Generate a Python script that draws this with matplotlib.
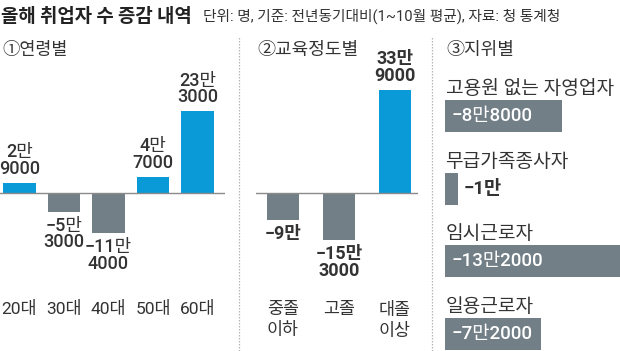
import matplotlib
matplotlib.use("Agg")
import matplotlib.pyplot as plt

plt.rcParams['font.family'] = ['Roboto', 'Noto Sans CJK KR', 'DejaVu Sans']

# ---- data ----
age_labels = ['20대', '30대', '40대', '50대', '60대']
age_values = [29000, -53000, -114000, 47000, 233000]
age_texts = ['2만\n9000', '−5만\n3000', '−11만\n4000', '4만\n7000', '23만\n3000']

edu_labels = ['중졸\n이하', '고졸', '대졸\n이상']
edu_values = [-90000, -153000, 339000]
edu_texts = ['−9만', '−15만\n3000', '33만\n9000']

status_labels = ['고용원 없는 자영업자', '무급가족종사자', '임시근로자', '일용근로자']
status_values = [-88000, -10000, -132000, -72000]
status_texts = ['−8만8000', '−1만', '−13만2000', '−7만2000']

BLUE = '#0a9ad8'
GRAY = '#737f87'
TXT = '#333333'

W, H = 620, 351
fig = plt.figure(figsize=(W / 100, H / 100), dpi=100)


def px_axes(x0, y0, x1, y1):
    ax = fig.add_axes([x0 / W, 1 - y1 / H, (x1 - x0) / W, (y1 - y0) / H])
    ax.set_axis_off()
    return ax


# ---- title ----
fig.text(1 / W, 1 - 16 / H, '올해 취업자 수 증감 내역', fontsize=13.6, fontweight='bold',
         family=['Noto Sans CJK KR'], color='#222222', va='center', ha='left')
fig.text(203 / W, 1 - 16 / H, '단위: 명, 기준: 전년동기대비(1~10월 평균), 자료: 청 통계청',
         fontsize=10.6, color='#333333', va='center', ha='left')

# separators
for xs in (238.5, 431.5):
    fig.add_artist(plt.Line2D([xs / W, xs / W], [0, 1 - 36 / H], transform=fig.transFigure,
                              color='#b5b5b5', lw=0.9, ls=(0, (1.2, 1.2))))

# ---- panel 1: age ----
base1, sc1 = 193, 0.35 / 1000  # px per person
ax1 = px_axes(0, 60, 225, 290)
sp1, c01 = 44.5, 19.5
ax1.set_xlim(-c01 / sp1, (225 - c01) / sp1)
ax1.set_ylim(-(290 - base1) / sc1, (base1 - 60) / sc1)
xs1 = list(range(len(age_values)))
cols1 = [BLUE if v > 0 else GRAY for v in age_values]
ax1.bar(xs1, age_values, width=0.74, color=cols1, zorder=2)
ax1.axhline(0, color='#8a8a8a', lw=1, zorder=3)
gap = 5 / sc1
for x, v, t in zip(xs1, age_values, age_texts):
    ax1.text(x, v + gap if v > 0 else v - gap, t, ha='center',
             va='bottom' if v > 0 else 'top', fontsize=13, fontweight='medium',
             color=TXT, linespacing=0.92)
for x, lab in zip(xs1, age_labels):
    fig.text((c01 + sp1 * x) / W, 1 - 309 / H, lab, ha='center', va='center',
             fontsize=12.5, color=TXT)
fig.text(2 / W, 1 - 50 / H, '①연령별', fontsize=12.5, color=TXT, va='center', ha='left')

# ---- panel 2: education ----
base2, sc2 = 193, 0.305 / 1000
ax2 = px_axes(256, 40, 418, 290)
sp2, c02 = 56, 283 - 256
ax2.set_xlim(-c02 / sp2, (418 - 256 - c02) / sp2)
ax2.set_ylim(-(290 - base2) / sc2, (base2 - 40) / sc2)
xs2 = list(range(len(edu_values)))
cols2 = [BLUE if v > 0 else GRAY for v in edu_values]
ax2.bar(xs2, edu_values, width=32 / sp2, color=cols2, zorder=2)
ax2.axhline(0, color='#8a8a8a', lw=1, zorder=3)
gap2 = 5 / sc2
for x, v, t in zip(xs2, edu_values, edu_texts):
    ax2.text(x, v + gap2 if v > 0 else v - gap2, t, ha='center',
             va='bottom' if v > 0 else 'top', fontsize=13, fontweight='bold',
             color=TXT, linespacing=0.92)
for x, lab in zip(xs2, edu_labels):
    fig.text((256 + c02 + sp2 * x) / W, 1 - 302 / H, lab, ha='center', va='top',
             fontsize=12.5, color=TXT, linespacing=1.35)
fig.text(257 / W, 1 - 50 / H, '②교육정도별', fontsize=13, color=TXT, va='center', ha='left')

# ---- panel 3: status ----
fig.text(446 / W, 1 - 50 / H, '③지위별', fontsize=13, color=TXT, va='center', ha='left')
ax3 = px_axes(445, 60, 620, 351)
sc3 = 1.33 / 1000
sp3, c03 = 72.7, 116 - 60
ax3.set_xlim(0, 175 / sc3)
ax3.set_ylim((351 - 60 - c03) / sp3, -c03 / sp3)
ys3 = list(range(len(status_values)))
widths = [abs(v) for v in status_values]
ax3.barh(ys3, widths, height=32 / sp3, color=GRAY, zorder=2)
for y, w, lab, t in zip(ys3, widths, status_labels, status_texts):
    ax3.text(0.5 / sc3, y - 16 / sp3 - 2 / sp3, lab, ha='left', va='bottom',
             fontsize=13.8, color=TXT)
    if w * sc3 > 40:
        ax3.text(7 / sc3, y, t, ha='left', va='center', fontsize=13.5,
                 fontweight='medium', color='white')
    else:
        ax3.text(w + 5 / sc3, y, t, ha='left', va='center', fontsize=13.5,
                 fontweight='bold', color=TXT)

fig.savefig('out.png', dpi=100, facecolor='white')
